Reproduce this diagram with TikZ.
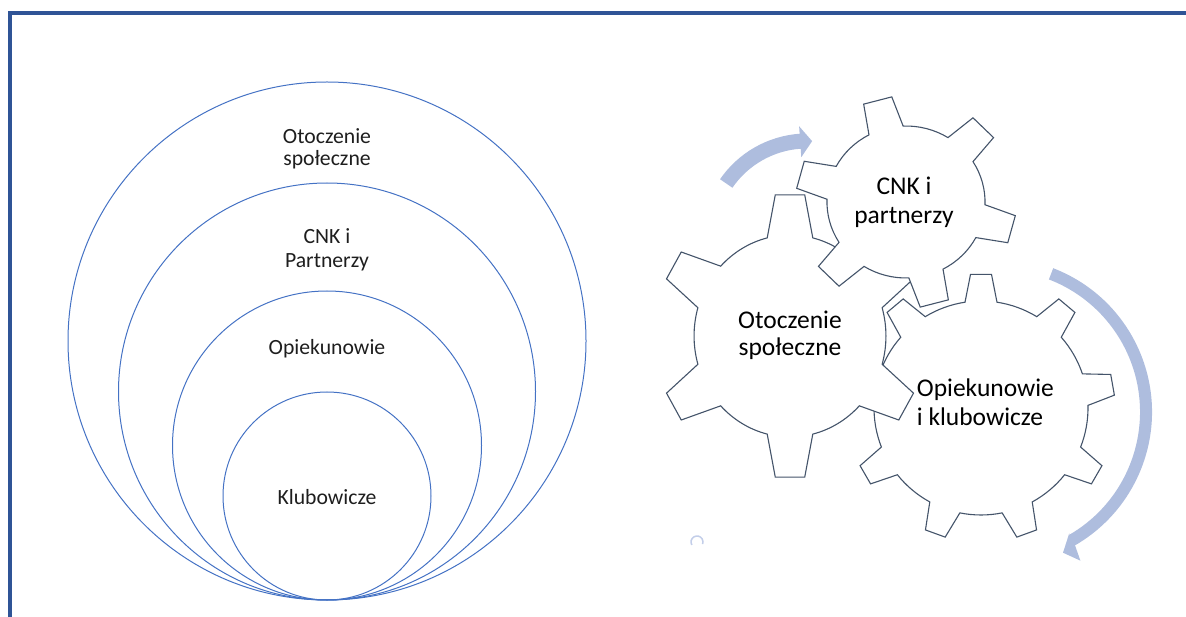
\documentclass[tikz,border=0pt]{standalone}
\usepackage{fontspec}
\setmainfont{Carlito}
\definecolor{cFrame}{RGB}{47,84,150}
\definecolor{cRing}{RGB}{68,114,196}
\definecolor{cGear}{RGB}{68,84,106}
\definecolor{cArrow}{RGB}{174,189,222}
\definecolor{cDot}{RGB}{195,206,233}
\definecolor{cLeftText}{RGB}{30,30,30}
% #1 teeth, #2 phase, #3 root radius, #4 tip radius, #5 root half-width, #6 tip half-width
\newcommand\gearoutline[6]{%
  \pgfmathsetmacro\gdr{asin(#5/#3)}%
  \pgfmathsetmacro\gdt{asin(#6/#4)}%
  \pgfmathsetmacro\gst{360/#1}%
  \pgfmathtruncatemacro\gn{#1-1}%
  \path[gearbody] ({#2-\gdr}:#3)
    \foreach \k in {0,...,\gn}{
      -- ({#2+\k*\gst-\gdt}:#4) -- ({#2+\k*\gst+\gdt}:#4) -- ({#2+\k*\gst+\gdr}:#3)
      arc[start angle={#2+\k*\gst+\gdr}, end angle={#2+(\k+1)*\gst-\gdr}, radius=#3]
    } -- cycle;
}
\begin{document}
\begin{tikzpicture}[x=1pt, y=-1pt,
  frameline/.style={draw=cFrame, line width=4pt},
  ring/.style={draw=cRing, line width=1pt},
  gearbody/.style={draw=cGear, fill=white, line width=1.1pt},
  arrowband/.style={fill=cArrow, draw=none},
  lefttext/.style={text=cLeftText, font=\fontsize{21.7}{26}\selectfont, inner sep=0pt},
  geartext/.style={text=black, font=\fontsize{25.5}{30}\selectfont, inner sep=0pt}]
\useasboundingbox (0,0) rectangle (1186,617);
% frame
\draw[frameline] (10,617) -- (10,13) -- (1186,13);
% nested circles
\draw[ring] (327,341) circle[radius=259];
\draw[ring] (327,391.5) circle[radius=208.5];
\draw[ring] (327,445.5) circle[radius=154.5];
\draw[ring] (327,496) circle[radius=104];
\node[lefttext, anchor=base] (l1a) at (327,144) {Otoczenie};
\node[lefttext, anchor=base] (l1b) at (327,165.7) {społeczne};
\node[lefttext, anchor=base] (l2a) at (327,244) {CNK i};
\node[lefttext, anchor=base] (l2b) at (327,267.3) {Partnerzy};
\node[lefttext, anchor=base] (l3) at (327,355) {Opiekunowie};
\node[lefttext, anchor=base] (l4) at (327,504) {Klubowicze};
% curved arrows
\begin{scope}[shift={(807,239)}]
  \path[arrowband] (-145.5:105.5) arc[start angle=-145.5, end angle=-94, radius=105.5]
    -- (-94:113) -- (-87:98) -- (-94:82) -- (-94:90.5)
    arc[start angle=-94, end angle=-145.5, radius=90.5] -- cycle;
\end{scope}
\begin{scope}[shift={(998,412)}]
  \path[arrowband] (-69:154) arc[start angle=-69, end angle=60, radius=154]
    -- (61:170) -- (65.2:155) -- (59.5:140.5) -- (60:142)
    arc[start angle=60, end angle=-69, radius=142] -- cycle;
\end{scope}
% small mark
\draw[cDot, line width=1.5pt] (697,542) ++(150:6) arc[start angle=150, end angle=380, radius=6];
% gears
\begin{scope}[shift={(981,408)}]
  \gearoutline{9}{-90}{107}{134}{16}{10.5}
\end{scope}
\begin{scope}[shift={(790,336)}, xscale=0.95]
  \gearoutline{6}{-90}{101}{142}{24}{15.5}
\end{scope}
\begin{scope}[shift={(906,202)}, xscale=1.04]
  \gearoutline{6}{-105}{76}{106}{17}{14}
\end{scope}
% gear labels
\node[geartext, anchor=base] (g2a) at (904,195) {CNK i};
\node[geartext, anchor=base] (g2b) at (904,223.3) {partnerzy};
\node[geartext, anchor=base] (g1a) at (790,328.3) {Otoczenie};
\node[geartext, anchor=base] (g1b) at (790,355.7) {społeczne};
\node[geartext, anchor=base west] (g3a) at (916.7,396.7) {Opiekunowie};
\node[geartext, anchor=base west] (g3b) at (916.7,425) {i klubowicze};
\end{tikzpicture}
\end{document}
